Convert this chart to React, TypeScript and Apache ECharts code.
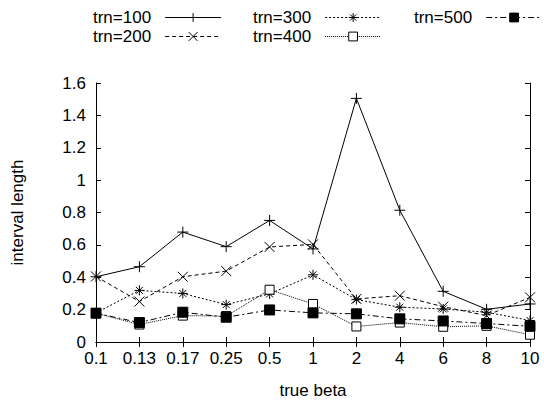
import React, { useEffect, useRef } from "react";
import * as echarts from "echarts";

const categories = ["0.1", "0.13", "0.17", "0.25", "0.5", "1", "2", "4", "6", "8", "10"];
const seriesNames = ["trn=100", "trn=200", "trn=300", "trn=400", "trn=500"];
const trn100 = [0.403, 0.465, 0.679, 0.589, 0.751, 0.575, 1.505, 0.814, 0.313, 0.202, 0.235];
const trn200 = [0.405, 0.25, 0.403, 0.438, 0.587, 0.603, 0.266, 0.286, 0.218, 0.163, 0.276];
const trn300 = [0.18, 0.319, 0.3, 0.231, 0.297, 0.415, 0.262, 0.215, 0.204, 0.184, 0.133];
const trn400 = [0.178, 0.108, 0.163, 0.16, 0.323, 0.235, 0.096, 0.12, 0.094, 0.1, 0.045];
const trn500 = [0.178, 0.12, 0.184, 0.153, 0.198, 0.18, 0.174, 0.143, 0.13, 0.114, 0.097];
const yTicks = { min: 0, max: 1.6, interval: 0.2 };

const FONT = "Liberation Sans, Arial, Helvetica, sans-serif";
const FS = 17;

const PLUS = "path://M0,5L10,5M5,0L5,10";
const CROSS = "path://M0,0L10,10M0,10L10,0";
const STAR = "path://M0,5L10,5M5,0L5,10M1.5,1.5L8.5,8.5M1.5,8.5L8.5,1.5";

export default function App() {
  const ref = useRef<HTMLDivElement>(null);
  useEffect(() => {
    if (!ref.current) return;
    const chart = echarts.init(ref.current, null, { renderer: "svg" });
    const mk = (name: string, data: number[], symbol: string, size: number, lineType: any, fill: string) => ({
      name,
      type: "line",
      data,
      symbol,
      symbolSize: size,
      showAllSymbol: true,
      lineStyle: { color: "#000", width: 1, type: lineType },
      itemStyle: { color: fill, borderColor: "#000", borderWidth: 1 },
      emphasis: { disabled: true },
      xAxisIndex: 0,
      yAxisIndex: 0,
    });
    const legendBase = {
      orient: "vertical",
      top: 3,
      align: "right",
      itemWidth: 56,
      itemHeight: 11,
      itemGap: 0,
      lineStyle: { width: 1 },
      itemStyle: { borderWidth: 1 },
      textStyle: { fontFamily: FONT, fontSize: FS, color: "#000", padding: [0, 9, 0, 0], lineHeight: 19 },
      selectedMode: false,
    };
    chart.setOption({
      animation: false,
      textStyle: { fontFamily: FONT },
      legend: [
        { ...legendBase, left: 88, data: ["trn=100", "trn=200"] },
        { ...legendBase, left: 248, data: ["trn=300", "trn=400"] },
        { ...legendBase, left: 409, data: ["trn=500"] },
      ],
      grid: { left: 96, right: 14, top: 83, bottom: 61 },
      xAxis: [
        {
          type: "category",
          data: categories,
          boundaryGap: false,
          position: "bottom",
          name: "true beta",
          nameLocation: "middle",
          nameGap: 40,
          nameTextStyle: { fontFamily: FONT, fontSize: FS, color: "#000" },
          axisLine: { lineStyle: { color: "#000", width: 1 } },
          axisTick: { inside: true, length: 5, lineStyle: { color: "#000" } },
          axisLabel: { fontFamily: FONT, fontSize: FS, color: "#000", margin: 8, interval: 0 },
          splitLine: { show: false },
        },
        {
          type: "category",
          data: categories,
          boundaryGap: false,
          position: "top",
          axisLine: { lineStyle: { color: "#000", width: 1 } },
          axisTick: { inside: true, length: 5, lineStyle: { color: "#000" } },
          axisLabel: { show: false },
          splitLine: { show: false },
        },
      ],
      yAxis: [
        {
          type: "value",
          ...yTicks,
          position: "left",
          name: "interval length",
          nameLocation: "middle",
          nameGap: 70,
          nameTextStyle: { fontFamily: FONT, fontSize: FS, color: "#000" },
          axisLine: { show: true, lineStyle: { color: "#000", width: 1 } },
          axisTick: { show: true, inside: true, length: 5, lineStyle: { color: "#000" } },
          axisLabel: { fontFamily: FONT, fontSize: FS, color: "#000", margin: 10 },
          splitLine: { show: false },
        },
        {
          type: "value",
          ...yTicks,
          position: "right",
          axisLine: { show: true, lineStyle: { color: "#000", width: 1 } },
          axisTick: { show: true, inside: true, length: 5, lineStyle: { color: "#000" } },
          axisLabel: { show: false },
          splitLine: { show: false },
        },
      ],
      series: [
        mk(seriesNames[0], trn100, PLUS, 11, "solid", "transparent"),
        mk(seriesNames[1], trn200, CROSS, 10, [4, 3], "transparent"),
        mk(seriesNames[2], trn300, STAR, 10, [2, 2], "transparent"),
        mk(seriesNames[3], trn400, "rect", 9, [1, 1], "#fff"),
        mk(seriesNames[4], trn500, "rect", 10, [6, 3, 2, 3], "#000"),
      ],
    });
    return () => chart.dispose();
  }, []);
  return <div ref={ref} style={{ width: 544, height: 404, position: "absolute", left: 0, top: 0 }} />;
}
